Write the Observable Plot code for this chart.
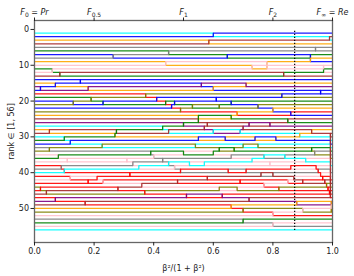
<!DOCTYPE html>
<html><head><meta charset="utf-8">
<script src="https://cdn.jsdelivr.net/npm/d3@7"></script>
<script src="https://cdn.jsdelivr.net/npm/@observablehq/plot@0.6"></script>
<style>body{margin:0;background:#fff} svg{font-family:"DejaVu Sans",sans-serif}</style>
</head><body><div id="chart"></div>
<script>
// series colour (tab10 category) of each line, listed by its rank at x = 0 (ranks 1..56)
const startColors = ["cyan","blue","orange","brown","gray","green","blue","gray","orange","pink",
  "green","pink","brown","blue","orange","purple","blue","red","green","blue",
  "olive","blue","olive","orange","brown","purple","cyan","orange","brown","cyan",
  "green","blue","gray","olive","pink","green","pink","red","gray","cyan",
  "red","pink","red","olive","red","brown","red","purple","brown","orange",
  "olive","pink","gray","green","pink","cyan"];
// rank changes: [x, from rank, to rank]
const events = [
  [0.60,2,1],[0.585,4,3],[0.99,2,3],[0.943,5,6],[0.45,6,7],[0.264,7,8],[0.647,8,7],[0.926,7,9],
  [0.44,9,10],[0.73,10,11],[0.78,11,9],[0.836,12,13],[0.97,10,12],[0.06,11,12],[0.085,12,13],
  [0.02,16,17],[0.07,15,16],[0.154,14,15],[0.18,16,17],[0.56,15,16],[0.60,16,17],[0.71,15,16],[0.96,17,18],
  [0.373,18,19],[0.41,19,20],[0.44,20,21],[0.46,21,22],[0.49,22,23],[0.13,21,20],[0.19,19,20],[0.23,20,21],
  [0.61,19,20],[0.66,20,21],[0.75,21,22],[0.80,22,23],[0.86,23,24],[0.83,18,19],[0.68,24,23],
  [0.55,25,26],[0.85,26,25],[0.72,26,27],[0.79,27,26],[0.70,27,28],[0.57,27,28],[0.58,26,27],
  [0.05,29,28],[0.275,28,29],[0.45,29,28],[0.10,30,31],[0.12,31,32],[0.227,32,33],[0.05,33,34],
  [0.39,34,35],[0.08,35,36],[0.11,36,37],[0.31,36,37],[0.33,37,38],[0.35,38,39],[0.40,35,36],
  [0.43,36,37],[0.45,37,38],[0.47,38,39],[0.49,39,40],[0.50,34,35],[0.09,38,39],[0.10,39,40],
  [0.32,40,41],[0.12,41,42],[0.21,42,41],[0.18,42,43],[0.23,43,42],[0.36,43,44],[0.28,44,45],
  [0.02,44,45],[0.04,45,46],[0.37,45,46],[0.51,46,47],[0.07,47,48],[0.17,48,49],
  [0.55,30,31],[0.64,31,30],[0.70,32,33],[0.75,33,32],[0.60,35,34],[0.66,36,35],[0.73,37,36],
  [0.79,38,37],[0.86,39,38],[0.58,41,42],[0.69,42,43],[0.77,43,44],[0.82,44,45],[0.63,46,47],
  [0.72,47,48],[0.88,48,49],[0.66,49,50],[0.70,50,51],[0.80,51,52],[0.90,50,51],[0.70,53,54],[0.80,54,55],
  [0.47,20,21],[0.53,21,22],[0.62,22,21],[0.55,24,25],[0.66,25,24],[0.50,26,27],[0.58,27,26],[0.27,29,30],
  [0.43,27,28],[0.60,28,29],[0.69,29,28],[0.74,30,31],[0.81,31,30],[0.54,32,33],[0.62,33,34],[0.67,34,33],
  [0.77,35,36],[0.84,36,35],[0.52,37,38],[0.57,38,37],[0.65,39,40],[0.71,40,39],[0.76,41,40],[0.80,40,41],
  [0.85,42,43],[0.90,43,42],[0.48,42,43],[0.62,44,45],[0.68,45,44],[0.93,33,34],[0.89,29,30],[0.93,28,29],
  [0.91,36,37],[0.87,41,42],
  [0.945,38,39],[0.952,39,40],[0.96,40,41],[0.967,41,42],[0.974,42,43],[0.98,43,44],[0.985,44,45],
  [0.99,45,46],[0.94,34,35],[0.993,47,29],[0.996,48,51]
];
const xTicks = [0,0.2,0.4,0.6,0.8,1];
const topTicks = [0,0.2,0.5,0.8,1];
const topLabels = [["F","0"," = ","Pr"],["F","0.5","",""],["F","1","",""],["F","2","",""],["F","\u221e"," = ","Re"]];
const yTicks = [0,10,20,30,40,50];
const markerX = [0.873];
const rankRange = [1,56];

const tab10Names = ["blue","orange","green","red","purple","brown","pink","gray","olive","cyan"];
const tab10Hex = ["#1f77b4","#ff7f0e","#2ca02c","#d62728","#9467bd","#8c564b","#e377c2","#7f7f7f","#bcbd22","#17becf"];

// build each line's step path from the rank changes
const evs = events.map((e,i)=>[...e,i]).sort((a,b)=>a[0]-b[0]||a[3]-b[3]);
const order = startColors.map((_,i)=>i);
const paths = startColors.map((c,i)=>[{id:i,color:c,x:0,rank:i+1}]);
for (const [x,from,to] of evs) {
  const id = order.splice(from-1,1)[0];
  order.splice(to-1,0,id);
  order.forEach((lid,k)=>{const p=paths[lid]; if (p[p.length-1].rank!==k+1) p.push({id:lid,color:startColors[lid],x,rank:k+1});});
}
paths.forEach(p=>{const l=p[p.length-1]; p.push({...l,x:1});});
const data = paths.flat();

const chart = Plot.plot({
  width:354, height:276, marginLeft:34, marginRight:22, marginTop:20, marginBottom:34,
  style:{fontFamily:"DejaVu Sans, sans-serif", fontSize:"8px", background:"white", color:"#222"},
  x:{domain:[0,1]},
  y:{domain:[rankRange[0]-3.5, rankRange[1]+3.5], reverse:true},
  color:{domain:tab10Names, range:tab10Hex},
  marks:[
    Plot.line(data,{x:"x",y:"rank",z:"id",stroke:"color",curve:"step-after",strokeWidth:1.25,strokeOpacity:0.9}),
    Plot.ruleX(markerX,{y1:rankRange[0]-0.5,y2:rankRange[1]+0.5,stroke:"#000",strokeDasharray:"1.2,1.8",strokeWidth:1.2}),
    Plot.frame({stroke:"#666",strokeWidth:1.3}),
    Plot.axisX({anchor:"bottom",ticks:xTicks,tickFormat:d3.format(".1f"),tickSize:3.5,tickPadding:2,label:"\u03b2\u00b2/(1 + \u03b2\u00b2)",labelAnchor:"center",labelArrow:"none",labelOffset:28}),
    Plot.axisX({anchor:"top",ticks:topTicks,tickFormat:(d,i)=>"T"+i,tickSize:3.5,tickPadding:2,label:null}),
    Plot.axisY({ticks:yTicks,tickSize:3.5,tickPadding:2,label:"rank \u2208 [1, 56]",labelAnchor:"center",labelArrow:"none",labelOffset:26})
  ]
});
document.getElementById("chart").appendChild(chart);
// typeset the top labels (italic F with subscripts)
const NS="http://www.w3.org/2000/svg";
chart.querySelectorAll("text").forEach(t=>{
  const m=/^T(\d)$/.exec(t.textContent.trim()); if(!m) return;
  const [f,sub,eq,rhs]=topLabels[+m[1]];
  while(t.firstChild) t.removeChild(t.firstChild);
  const add=(s,attrs)=>{const e=document.createElementNS(NS,"tspan");e.textContent=s;for(const k in attrs)e.setAttribute(k,attrs[k]);t.appendChild(e);};
  add(f,{"font-style":"italic"});
  add(sub,{"font-size":"6","dy":"1.8"});
  if(eq){add(eq,{"dy":"-1.8"});add(rhs,{"font-style":"italic"});}
});
</script></body></html>
